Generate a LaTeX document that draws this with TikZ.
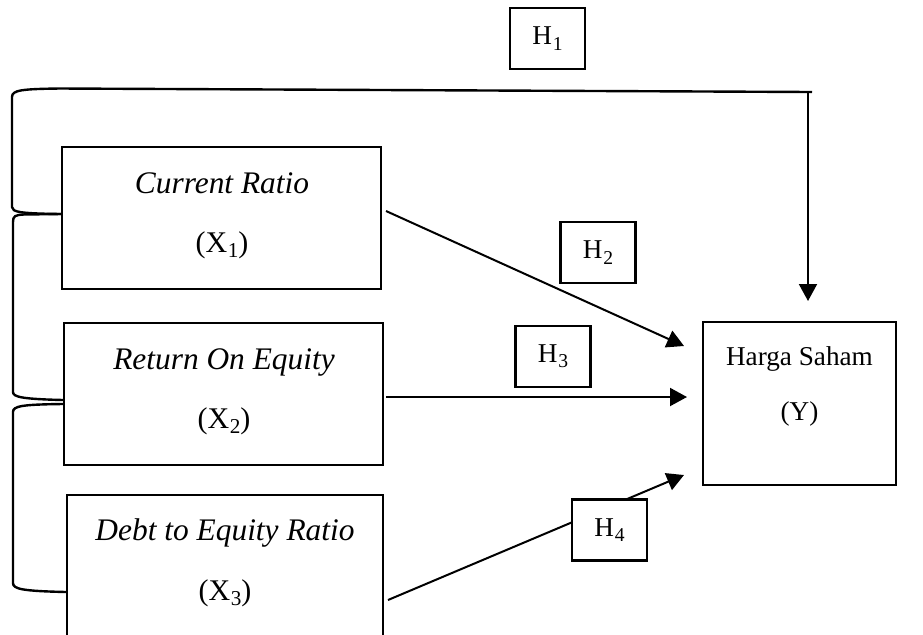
\documentclass[tikz,border=0pt]{standalone}
\usepackage{fontspec}
\setmainfont{Liberation Serif}
\usetikzlibrary{arrows.meta}
\newcommand\hlab[1]{H\kern0.4pt\raisebox{-0.42ex}{\fontsize{9.8pt}{10pt}\selectfont #1}}
\newcommand\xlab[1]{(X\kern0.3pt\raisebox{-0.42ex}{\fontsize{10.6pt}{11pt}\selectfont #1})}
\begin{document}
\begin{tikzpicture}[x=0.5pt,y=-0.5pt,
  box/.style={draw,line width=1.2pt,fill=white,inner sep=0pt},
  hbox/.style={draw,line width=1.2pt,fill=white,inner sep=0pt,
    minimum width=37.5pt,minimum height=30.5pt,
    font=\fontsize{13.6pt}{15pt}\selectfont},
  itlab/.style={inner sep=0pt,anchor=base,font=\fontsize{15.7pt}{18pt}\selectfont\itshape},
  xlabst/.style={inner sep=0pt,anchor=base,font=\fontsize{15pt}{18pt}\selectfont},
  ylab/.style={inner sep=0pt,anchor=base,font=\fontsize{13.6pt}{16pt}\selectfont},
  conn/.style={line width=1pt,-{Triangle[length=8.5pt,width=9pt]}},
  brk/.style={line width=1.2pt}]
\useasboundingbox (0,0) rectangle (923,634);
\clip (0,0) rectangle (923,634);
% boxes
\node[box,minimum width=159.5pt,minimum height=71pt] (x1) at (221.5,218) {};
\node[box,minimum width=159.5pt,minimum height=71pt] (x2) at (223.5,394) {};
\node[box,minimum width=158pt,minimum height=77.5pt] (x3) at (225,572.5) {};
\node[box,minimum width=96.5pt,minimum height=81.5pt] (y) at (799.5,403.5) {};
% box texts
\node[itlab] (t1) at (222,193) {Current Ratio};
\node[xlabst] (s1) at (222,252) {\xlab{1}};
\node[itlab] (t2) at (224,369) {Return On Equity};
\node[xlabst] (s2) at (224,428) {\xlab{2}};
\node[itlab] (t3) at (225,540) {Debt to Equity Ratio};
\node[xlabst] (s3) at (225,600) {\xlab{3}};
\node[ylab] (ty) at (799.5,365) {Harga Saham};
\node[ylab] (sy) at (799.5,420) {(Y)};
% connector end points
\coordinate (a1s) at (386,211);
\coordinate (a1e) at (684,346);
\coordinate (a2s) at (386,397);
\coordinate (a2e) at (687,397);
\coordinate (a3s) at (388,600);
\coordinate (a3e) at (684,475);
\coordinate (tr) at (808,92);
\coordinate (tre) at (812,92);
\coordinate (tip) at (808,301);
\coordinate (tl) at (60,88.5);
% arrows
\draw[conn] (a1s) -- (a1e);
\draw[conn] (a2s) -- (a2e);
\draw[conn] (a3s) -- (a3e);
\draw[conn] (tr) -- (tip);
% brackets
\draw[brk] (tre) -- (tl) .. controls (22,89) and (12,90) .. (12,97) -- (12,207)
  .. controls (12,212) and (20,213.5) .. (x1.west |- 0,214);
\draw[brk] (x1.west |- 0,214) -- (24,214.5) .. controls (15,215) and (13,216) .. (13,222)
  -- (13,392) .. controls (13,397) and (22,399) .. (x2.west |- 0,400);
\draw[brk] (x2.west |- 0,404) .. controls (22,404.5) and (13,406) .. (13,412)
  -- (13,583) .. controls (13,589) and (22,591) .. (x3.west |- 0,592);
% hypothesis labels
\node[hbox] (h1) at (547.5,38.5) {\hlab{1}};
\node[hbox] (h2) at (598,252.5) {\hlab{2}};
\node[hbox] (h3) at (553,356.5) {\hlab{3}};
\node[hbox] (h4) at (609.5,530) {\hlab{4}};
\end{tikzpicture}
\end{document}
